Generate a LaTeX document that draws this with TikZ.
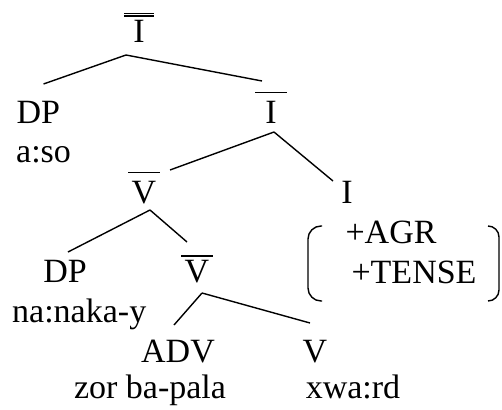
\documentclass[tikz,border=0pt]{standalone}
\usepackage{fontspec}
\setmainfont{Liberation Serif}
% bar-level categories
\newcommand{\sbar}[2][4pt]{\vbox{\hrule height 1.3pt width 32pt\kern#1\hbox to 32pt{\hss#2\hss}}}
\newcommand{\dbar}[2][4.5pt]{\vbox{\hrule height 1.3pt width 30pt\kern1.4pt\hrule height 1.3pt width 30pt\kern#1\hbox to 30pt{\hss#2\hss}}}

\begin{document}
\begin{tikzpicture}[x=1pt, y=1pt,
    cat/.style={inner sep=0pt, anchor=base, font=\fontsize{34}{40}\selectfont},
    branch/.style={line width=1.4pt}
  ]
    \useasboundingbox (0,0) rectangle (502,-409);

    \node[cat] (top) at (139,-43) {\dbar[4pt]{I}};
    \node[cat, anchor=base west] (dpsubj) at (16.5,-123) {DP};
    \node[cat, anchor=base west] (aso) at (16,-162) {a:so};
    \node[cat] (ibar) at (271,-123) {\sbar[7.5pt]{I}};
    \node[cat] (vbarhi) at (144,-203) {\sbar[7.5pt]{V}};
    \node[cat] (infl) at (347,-203) {I};
    \node[cat] (agr) at (391,-243) {+AGR};
    \node[cat] (tense) at (414,-283) {+TENSE};
    \node[cat] (dpobj) at (65,-282) {DP};
    \node[cat, anchor=base west] (nanakay) at (12,-322) {na:naka-y};
    \node[cat] (vbarlo) at (197,-282) {\sbar[3pt]{V}};
    \node[cat] (adv) at (178,-362) {ADV};
    \node[cat] (zor) at (150,-398) {zor ba-pala};
    \node[cat] (verb) at (315,-362) {V};
    \node[cat] (xwa) at (353,-398) {xwa:rd};

    \draw[branch] ([xshift=-13pt,yshift=-12pt]top.base) -- ([xshift=27pt,yshift=39pt]dpsubj.base west);
    \draw[branch] ([xshift=-13pt,yshift=-12pt]top.base) -- ([xshift=-9pt,yshift=42pt]ibar.base);
    \draw[branch] ([xshift=3pt,yshift=-9pt]ibar.base) -- ([xshift=26pt,yshift=33pt]vbarhi.base);
    \draw[branch] ([xshift=3pt,yshift=-9pt]ibar.base) -- ([xshift=-14pt,yshift=22pt]infl.base);
    \draw[branch] ([xshift=6pt,yshift=-7pt]vbarhi.base) -- ([xshift=3pt,yshift=30pt]dpobj.base);
    \draw[branch] ([xshift=6pt,yshift=-7pt]vbarhi.base) -- ([xshift=-10pt,yshift=40pt]vbarlo.base);
    \draw[branch] ([xshift=5pt,yshift=-11pt]vbarlo.base) -- ([xshift=-4pt,yshift=37pt]adv.base);
    \draw[branch] ([xshift=5pt,yshift=-11pt]vbarlo.base) -- ([xshift=-5pt,yshift=39pt]verb.base);

    % feature brackets
    \draw[branch, rounded corners=13pt] (322,-226) -| (308,-301) -- (322,-301);
    \draw[branch, rounded corners=11pt] (488,-226) -| (499,-301) -- (488,-301);
\end{tikzpicture}
\end{document}
